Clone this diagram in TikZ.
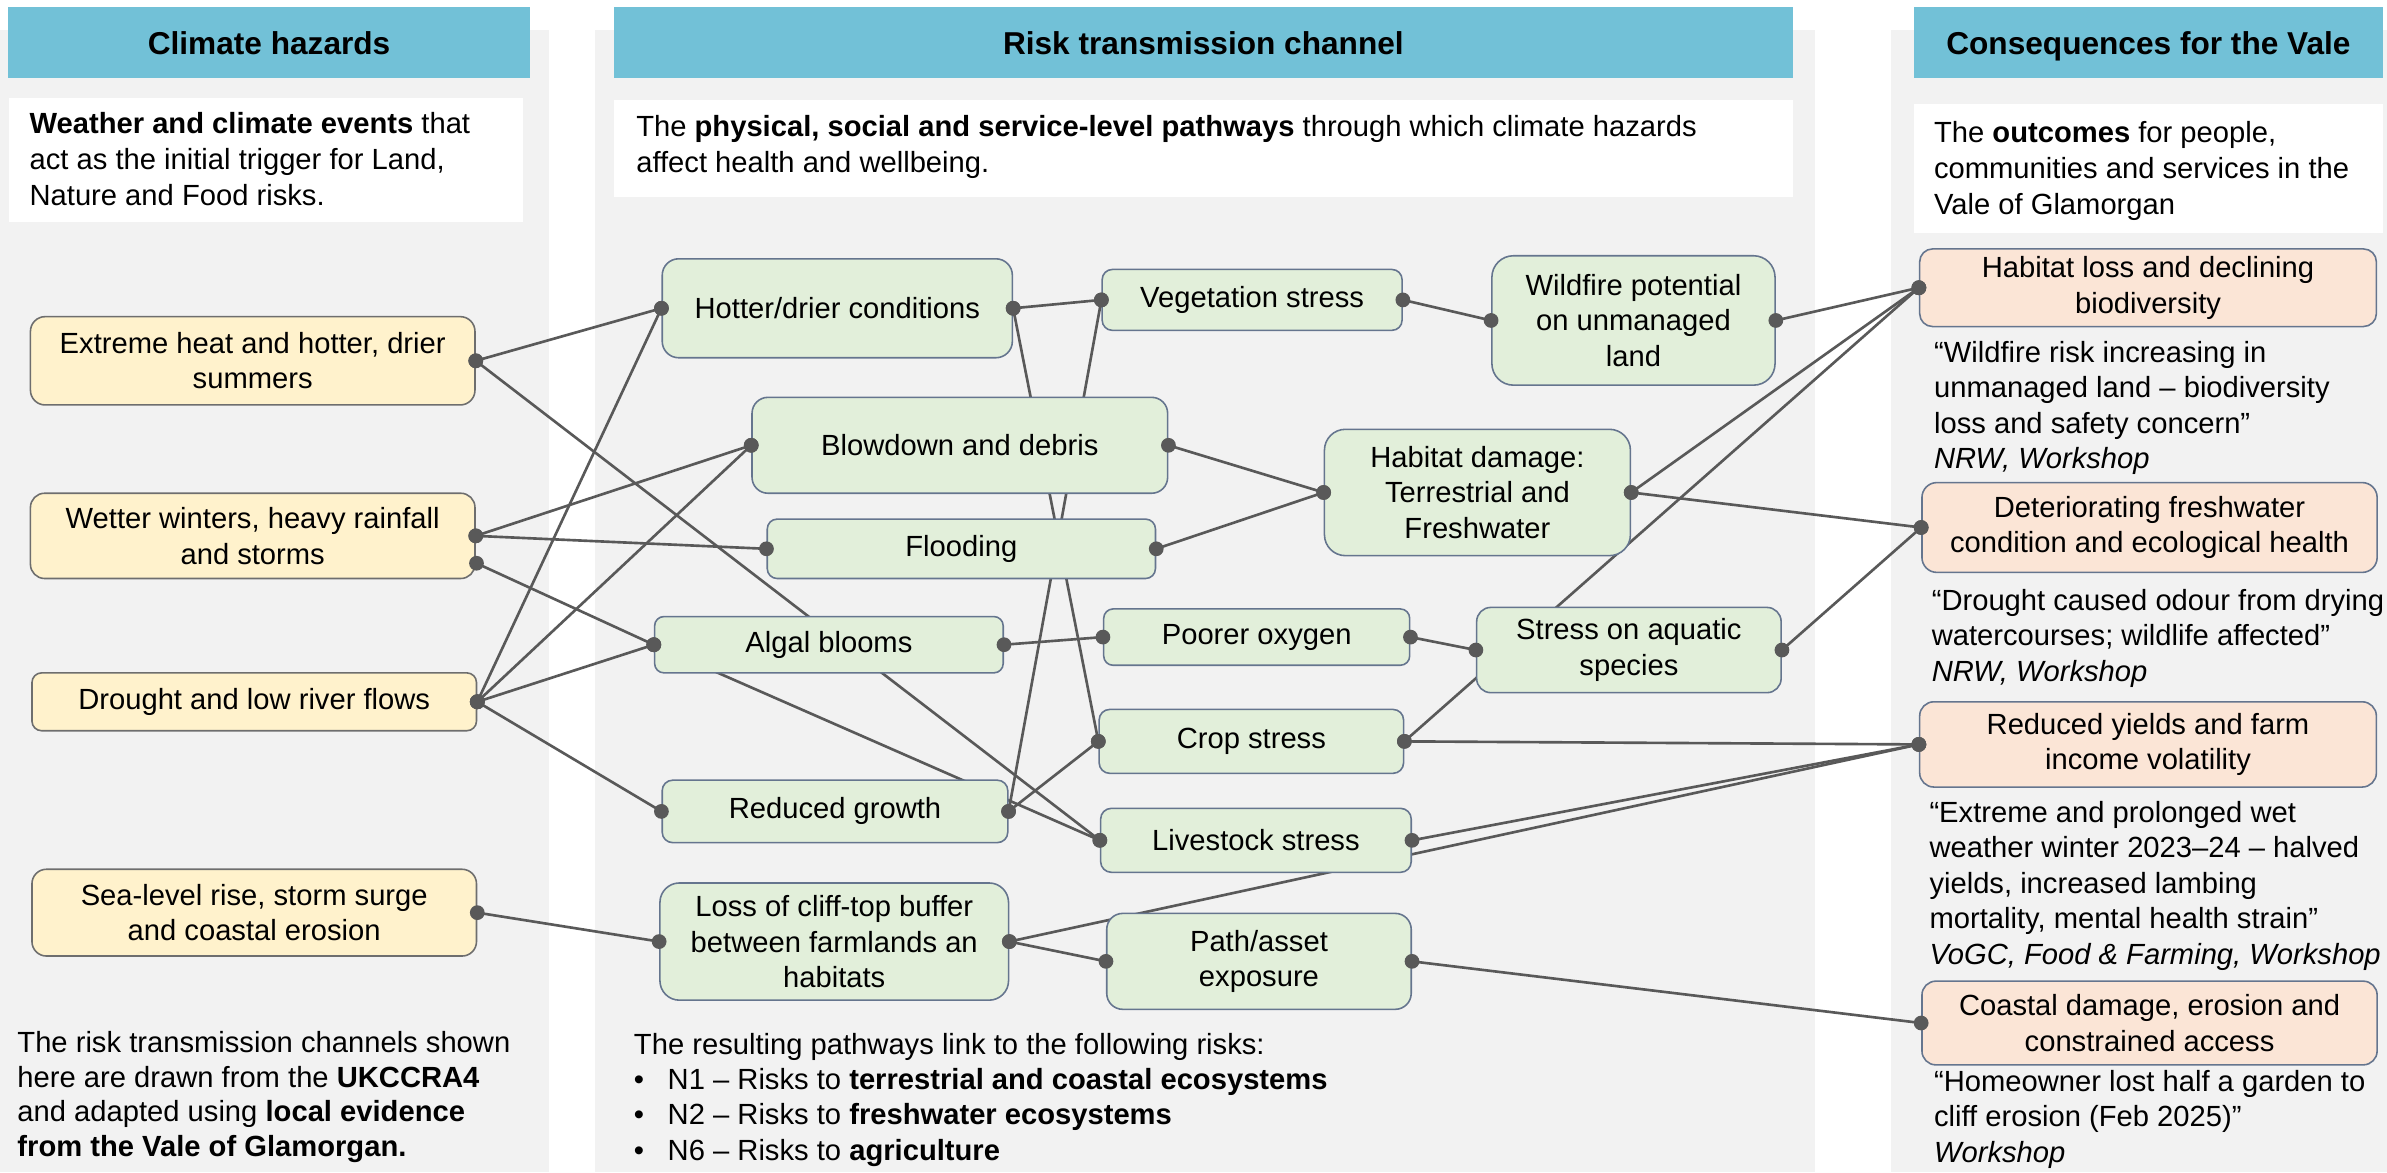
\documentclass[tikz,border=0pt]{standalone}
\usepackage{fontspec}
\setmainfont{Liberation Sans}

\definecolor{headblue}{HTML}{72C1D7}
\definecolor{panelgray}{HTML}{F2F2F2}
\definecolor{hazfill}{HTML}{FFF2CC}
\definecolor{hazdraw}{HTML}{6E6E6E}
\definecolor{chanfill}{HTML}{E2EFDA}
\definecolor{chandraw}{HTML}{65758E}
\definecolor{outfill}{HTML}{FBE5D6}
\definecolor{wirecol}{HTML}{595959}

\pgfdeclarelayer{panels}
\pgfdeclarelayer{wires}
\pgfdeclarelayer{front}
\pgfsetlayers{panels,wires,main,front}

\newcommand\bodyfont{\fontsize{8.3}{10.1}\selectfont}

\tikzset{
  cell/.style n args={3}{draw=#3, line width=0.45pt, inner sep=0pt, align=center,
    font=\bodyfont, minimum width=#1*0.15223mm, minimum height=#2*0.15223mm,
    rounded corners=#2*0.072pt},
  hazard/.style 2 args={cell={#1}{#2}{hazdraw}, fill=hazfill},
  channel/.style 2 args={cell={#1}{#2}{chandraw}, fill=chanfill},
  outcome/.style 2 args={cell={#1}{#2}{chandraw}, fill=outfill},
  header/.style={fill=headblue, inner sep=0pt, minimum height=47*0.15223mm,
    text height=6.5pt, text depth=0pt, font=\fontsize{9}{10}\selectfont\bfseries},
  % multi-line notes are placed by the baseline of their last line
  note/.style={anchor=base west, align=left, inner sep=0pt, font=\bodyfont},
  conn/.style={draw=wirecol, line width=0.75pt},
  enddot/.style={fill=wirecol},
}

% connector with a dot at each end
\newcommand\wirelink[2]{%
  \begin{pgfonlayer}{wires}\draw[conn] (#1) -- (#2);\end{pgfonlayer}%
  \begin{pgfonlayer}{front}\fill[enddot] (#1) circle[radius=2.1pt] (#2) circle[radius=2.1pt];\end{pgfonlayer}}

\begin{document}
\begin{tikzpicture}[x=0.15223mm, y=-0.15223mm]
\useasboundingbox (0,0) rectangle (1568,770);

% column backgrounds and description panels
\begin{pgfonlayer}{panels}
  \fill[panelgray] (0,20) rectangle (360.6,770);
  \fill[panelgray] (391,20) rectangle (1192,770);
  \fill[panelgray] (1242,20) rectangle (1568,770);
  \fill[white] (6,64.6) rectangle (343.6,145.6);
  \fill[white] (403,66) rectangle (1178,129.6);
  \fill[white] (1257,68.4) rectangle (1565.5,153);
\end{pgfonlayer}

% column headers
\node[header, minimum width=343*0.15223mm] (hzhead) at (176.75,28) {Climate hazards};
\node[header, minimum width=775*0.15223mm] (chhead) at (790.5,28) {Risk transmission channel};
\node[header, minimum width=308.5*0.15223mm] (cqhead) at (1411.25,28) {Consequences for the Vale};

% column descriptions
\node[note, font=\fontsize{8.3}{10.2}\selectfont] (hzdesc) at (19,135.1)
  {\textbf{Weather and climate events} that\\act as the initial trigger for Land,\\Nature and Food risks.};
\node[note, font=\fontsize{8.3}{10.2}\selectfont] (chdesc) at (417.5,113.5)
  {The \textbf{physical, social and service-level pathways} through which climate hazards\\affect health and wellbeing.};
\node[note, font=\fontsize{8.3}{10.2}\selectfont] (cqdesc) at (1270,141)
  {The \textbf{outcomes} for people,\\communities and services in the\\Vale of Glamorgan};

% climate hazards
\node[hazard={292}{58}] (ext) at (166,237) {Extreme heat and hotter, drier\\summers};
\node[hazard={292}{56}] (wet) at (166,352) {Wetter winters, heavy rainfall\\and storms};
\node[hazard={292}{38}] (dro) at (167,461) {Drought and low river flows};
\node[hazard={292}{57}] (sea) at (167,599.5) {Sea-level rise, storm surge\\and coastal erosion};
\coordinate (wet2) at (313,370);

% transmission channels
\node[channel={230}{65}] (hot) at (550,202.5) {Hotter/drier conditions};
\node[channel={197}{40}] (veg) at (822.5,197) {Vegetation stress};
\node[channel={186}{85}] (wild) at (1073,210.5) {Wildfire potential\\on unmanaged\\land};
\node[channel={273}{63}] (blow) at (630.5,292.5) {Blowdown and debris};
\node[channel={201}{83}] (hab) at (970.5,323.5) {Habitat damage:\\Terrestrial and\\Freshwater};
\node[channel={255}{39}] (flood) at (631.5,360.5) {Flooding};
\node[channel={229}{37}] (algal) at (544.5,423.5) {Algal blooms};
\node[channel={201}{37}] (oxy) at (825.5,418.5) {Poorer oxygen};
\node[channel={200}{56}] (aqua) at (1070,427) {Stress on aquatic\\species};
\node[channel={200}{42}] (crop) at (822,487) {Crop stress};
\node[channel={227}{41}] (red) at (548.5,533) {Reduced growth};
\node[channel={204}{42}] (live) at (825,552) {Livestock stress};
\node[channel={229}{77}] (cliff) at (548,618.5) {Loss of cliff-top buffer\\between farmlands an\\habitats};
\node[channel={200}{63}] (path) at (827,631.5) {Path/asset\\exposure};

% consequences
\node[outcome={300}{51}] (loss) at (1411,189) {Habitat loss and declining\\biodiversity};
\node[outcome={299}{59}] (fresh) at (1412,346.5) {Deteriorating freshwater\\condition and ecological health};
\node[outcome={300}{56}] (yield) at (1411,489) {Reduced yields and farm\\income volatility};
\node[outcome={299}{55}] (coast) at (1412,672) {Coastal damage, erosion and\\constrained access};

% local evidence quotes
\node[note] (q1) at (1270,308) {“Wildfire risk increasing in\\unmanaged land – biodiversity\\loss and safety concern”\\\textit{NRW, Workshop}};
\node[note] (q2) at (1268.5,447.6) {“Drought caused odour from drying\\watercourses; wildlife affected”\\\textit{NRW, Workshop}};
\node[note] (q3) at (1267,633.3) {“Extreme and prolonged wet\\weather winter 2023–24 – halved\\yields, increased lambing\\mortality, mental health strain”\\\textit{VoGC, Food \& Farming, Workshop}};
\node[note] (q4) at (1270,763.5) {“Homeowner lost half a garden to\\cliff erosion (Feb 2025)”\\\textit{Workshop}};

% footnotes
\node[note, font=\fontsize{8.3}{9.8}\selectfont] (source) at (11,759.5)
  {The risk transmission channels shown\\here are drawn from the \textbf{UKCCRA4}\\and adapted using \textbf{local evidence}\\\textbf{from the Vale of Glamorgan.}};
\node[note, font=\fontsize{8.3}{10}\selectfont] (risks) at (416,762)
  {The resulting pathways link to the following risks:\\
   \makebox[9.6pt][l]{•}N1 – Risks to \textbf{terrestrial and coastal ecosystems}\\
   \makebox[9.6pt][l]{•}N2 – Risks to \textbf{freshwater ecosystems}\\
   \makebox[9.6pt][l]{•}N6 – Risks to \textbf{agriculture}};

% hazard -> channel links
\wirelink{ext.east}{hot.west}
\wirelink{ext.east}{live.west}
\wirelink{wet.east}{blow.west}
\wirelink{wet.east}{flood.west}
\wirelink{wet2}{algal.west}
\wirelink{dro.east}{hot.west}
\wirelink{dro.east}{blow.west}
\wirelink{dro.east}{algal.west}
\wirelink{dro.east}{red.west}
\wirelink{sea.east}{cliff.west}

% links inside the channel column
\wirelink{algal.west}{live.west}
\wirelink{hot.east}{veg.west}
\wirelink{hot.east}{crop.west}
\wirelink{veg.west}{red.east}
\wirelink{veg.east}{wild.west}
\wirelink{blow.east}{hab.west}
\wirelink{flood.east}{hab.west}
\wirelink{algal.east}{oxy.west}
\wirelink{oxy.east}{aqua.west}
\wirelink{red.east}{crop.west}
\wirelink{cliff.east}{path.west}

% channel -> consequence links
\wirelink{wild.east}{loss.west}
\wirelink{hab.east}{loss.west}
\wirelink{crop.east}{loss.west}
\wirelink{hab.east}{fresh.west}
\wirelink{aqua.east}{fresh.west}
\wirelink{crop.east}{yield.west}
\wirelink{live.east}{yield.west}
\wirelink{cliff.east}{yield.west}
\wirelink{path.east}{coast.west}
\end{tikzpicture}
\end{document}
